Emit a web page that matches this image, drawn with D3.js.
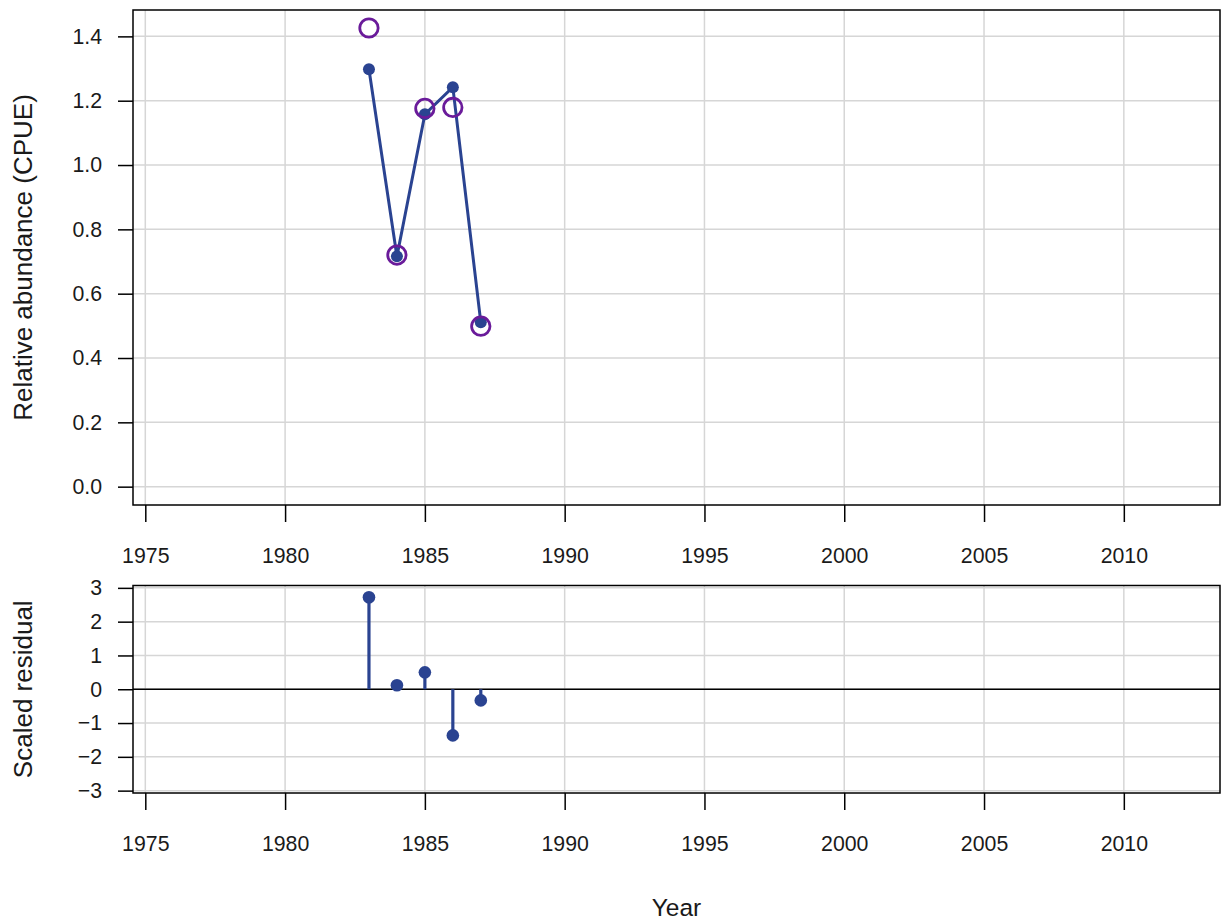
<!DOCTYPE html>
<html>
<head>
<meta charset="utf-8">
<script src="https://cdn.jsdelivr.net/npm/d3@7"></script>
<style>
  html, body { margin: 0; padding: 0; background: #fff; }
  svg text { font-family: "Liberation Sans", Arial, Helvetica, sans-serif; fill: #1a1a1a; }
</style>
</head>
<body>
<svg id="chart" width="1225" height="922"></svg>
<script>
// Index fit: observed and predicted CPUE by year, plus scaled residuals
const years = [1983, 1984, 1985, 1986, 1987];
const observed = [1.426, 0.720, 1.176, 1.179, 0.499];
const predicted = [1.298, 0.716, 1.158, 1.242, 0.511];
const residuals = [2.72, 0.12, 0.50, -1.365, -0.33];

const yearTicks = [1975, 1980, 1985, 1990, 1995, 2000, 2005, 2010];
const cpueTicks = [0.0, 0.2, 0.4, 0.6, 0.8, 1.0, 1.2, 1.4];
const residTicks = [-3, -2, -1, 0, 1, 2, 3];

const fitColor = "#2a4391";
const obsColor = "#6a1b9a";
const gridColor = "#d6d6d6";
const tickFont = 21.3;
const titleFont = 26;

const svg = d3.select("#chart");
const left = 133, right = 1220;

const x = d3.scaleLinear().domain([1974.56, 2013.44]).range([left, right]);

function panel(top, bottom, yDomain, yTicks, yFmt, title) {
  const y = d3.scaleLinear().domain(yDomain).range([bottom, top]);
  const g = svg.append("g");

  // grid
  g.selectAll("line.vg").data(yearTicks).join("line")
    .attr("x1", d => x(d)).attr("x2", d => x(d))
    .attr("y1", top).attr("y2", bottom)
    .attr("stroke", gridColor).attr("stroke-width", 1.5);
  g.selectAll("line.hg").data(yTicks).join("line")
    .attr("x1", left).attr("x2", right)
    .attr("y1", d => y(d)).attr("y2", d => y(d))
    .attr("stroke", gridColor).attr("stroke-width", 1.5);

  // axes
  const xa = d3.axisBottom(x).tickValues(yearTicks).tickFormat(d3.format("d"))
    .tickSize(17).tickPadding(26);
  const xg = g.append("g").attr("transform", `translate(0,${bottom})`).call(xa);
  const ya = d3.axisLeft(y).tickValues(yTicks).tickFormat(yFmt)
    .tickSize(15).tickPadding(16);
  const yg = g.append("g").attr("transform", `translate(${left},0)`).call(ya);
  [xg, yg].forEach(a => {
    a.attr("font-size", null).attr("font-family", null);
    a.select(".domain").remove();
    a.selectAll(".tick line").attr("stroke", "#000").attr("stroke-width", 1.5);
    a.selectAll(".tick text")
      .style("font-size", tickFont + "px")
      .style("font-family", '"Liberation Sans", Arial, sans-serif')
      .attr("fill", "#1a1a1a");
  });
  xg.selectAll(".tick text").attr("dy", "0.71em");

  // box
  g.append("rect").attr("x", left).attr("y", top)
    .attr("width", right - left).attr("height", bottom - top)
    .attr("fill", "none").attr("stroke", "#000").attr("stroke-width", 1.5);

  // y title
  svg.append("text")
    .attr("transform", `translate(32,${(top + bottom) / 2}) rotate(-90)`)
    .attr("text-anchor", "middle").style("font-size", titleFont + "px").text(title);
  return { g, y };
}

// upper panel: CPUE
const p1 = panel(10, 505, [-0.057, 1.482], cpueTicks, d3.format(".1f"), "Relative abundance (CPUE)");
const line = d3.line().x((d, i) => x(years[i])).y(d => p1.y(d));
p1.g.append("path").datum(predicted).attr("d", line)
  .attr("fill", "none").attr("stroke", fitColor).attr("stroke-width", 3);
p1.g.selectAll("circle.pred").data(predicted).join("circle")
  .attr("cx", (d, i) => x(years[i])).attr("cy", d => p1.y(d))
  .attr("r", 6).attr("fill", fitColor);
p1.g.selectAll("circle.obs").data(observed).join("circle")
  .attr("cx", (d, i) => x(years[i])).attr("cy", d => p1.y(d))
  .attr("r", 9.2).attr("fill", "none").attr("stroke", obsColor).attr("stroke-width", 2.8);

// lower panel: residuals
const p2 = panel(585.5, 793, [-3.07, 3.07], residTicks, d3.format("d"), "Scaled residual");
p2.g.selectAll("text").filter(function () { return this.textContent.startsWith("-") || this.textContent.startsWith("−"); })
  .text(function () { return "\u2212" + this.textContent.replace(/^[-−]/, ""); });
p2.g.append("line").attr("x1", left).attr("x2", right)
  .attr("y1", p2.y(0)).attr("y2", p2.y(0))
  .attr("stroke", "#000").attr("stroke-width", 1.5);
p2.g.selectAll("line.stem").data(residuals).join("line")
  .attr("x1", (d, i) => x(years[i])).attr("x2", (d, i) => x(years[i]))
  .attr("y1", p2.y(0)).attr("y2", d => p2.y(d))
  .attr("stroke", fitColor).attr("stroke-width", 3.2);
p2.g.selectAll("circle.res").data(residuals).join("circle")
  .attr("cx", (d, i) => x(years[i])).attr("cy", d => p2.y(d))
  .attr("r", 6.3).attr("fill", fitColor);

// shared x title
svg.append("text").attr("x", (left + right) / 2).attr("y", 916)
  .attr("text-anchor", "middle").style("font-size", "24.5px").text("Year");
</script>
</body>
</html>
